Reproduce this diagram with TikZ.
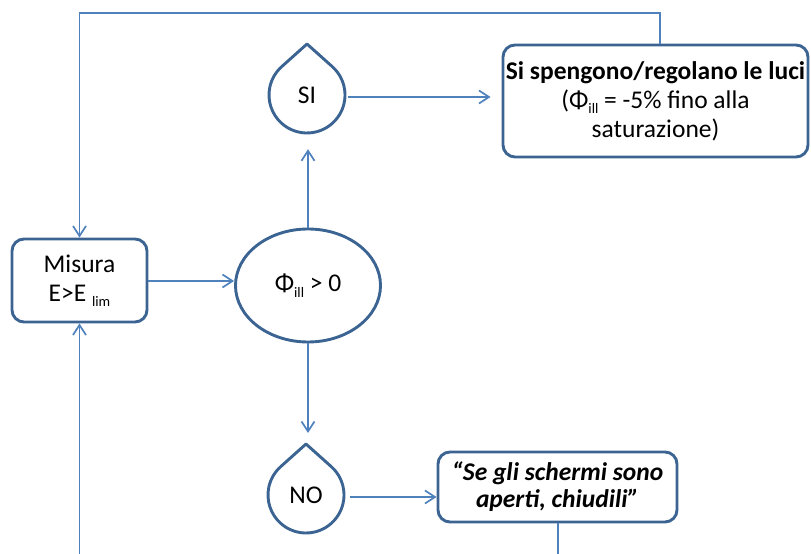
\documentclass[tikz,border=0pt]{standalone}
\usepackage{fontspec}
\setmainfont{Carlito}
\usetikzlibrary{arrows.meta,shapes.geometric,calc}

\definecolor{linkblue}{HTML}{4F81BD}
\definecolor{edgeblue}{HTML}{3B6492}

% small lowered index text (Phi_ill, E_lim)
\newcommand{\lowidx}[1]{\raisebox{-0.45ex}{\fontsize{14.5}{14.5}\selectfont #1}}

\begin{document}
\begin{tikzpicture}[x=1pt,y=1pt,
  conn/.style={draw=linkblue, line width=1.7pt, line join=miter,
    -{Straight Barb[length=10pt,width=13pt,line width=1.7pt]}},
  box/.style={draw=edgeblue, line width=2.9pt, rounded corners=12pt,
    align=center, inner sep=0pt, text=black},
  txt/.style={font=\fontsize{25.5}{29}\selectfont},
  dropcore/.style={circle, minimum size=76pt, inner sep=0pt, text=black},
  dropline/.style={draw=edgeblue, line width=2.9pt, line join=round}
]
\useasboundingbox (0,0) rectangle (811,554);
\clip (0,0) rectangle (811,554);

% nodes
\node[box, txt, minimum width=135pt, minimum height=83pt] (misura) at (79.5,273.5)
  {Misura\\E>E \lowidx{lim}};
\node[draw=edgeblue, line width=2.9pt, ellipse, minimum width=145pt, minimum height=113pt,
  inner sep=0pt, txt, text=black] (test) at (308,268.5) {Φ\lowidx{ill} > 0};
\node[dropcore, txt] (si) at (307,459) {SI};
\node[dropcore, txt] (no) at (306,59) {NO};
\node[box, txt, minimum width=305pt, minimum height=112pt] (luci) at (655.5,453)
  {\textbf{Si spengono/regolano le luci}\\(Φ\lowidx{ill} = -5\% fino alla\\saturazione)};
\node[box, txt, minimum width=239pt, minimum height=70pt, font=\fontsize{25.5}{27}\selectfont\bfseries\itshape]
  (schermi) at (557.5,67) {“Se gli schermi sono\\aperti, chiudili”};

% drop outlines around SI / NO
\foreach \d in {si,no}{
  \draw[dropline] ($(\d.center)+(0,51)$) -- ($(\d.center)+(48.2:38)$)
    arc[start angle=48.2, end angle=-228.2, radius=38] -- cycle;
}
\coordinate (notip) at ($(no.center)+(0,51)$);

% turning points of the feedback loops
\coordinate (topturn) at (660,541);
\coordinate (botturn) at (558,-20);

% connectors
\draw[conn] (misura.east |- 0,273) -- (test.west |- 0,273);
\draw[conn, shorten >=16pt] (test.north) -- (test.north |- si.south);
\draw[conn, shorten <=3pt, shorten >=11pt] ($(si.east)+(0,-2)$) -- ($(si.east -| luci.west)+(0,-2)$);
\draw[conn, shorten >=11pt] (test.south) -- (test.south |- notip);
\draw[conn, shorten <=6pt] ($(no.east)+(0,-2)$) -- ($(no.east -| schermi.west)+(0,-2)$);
\draw[conn] (luci.north -| topturn) -- (topturn) -| (misura.north);
\draw[conn] (schermi.south -| botturn) -- (botturn) -| (misura.south);
\end{tikzpicture}
\end{document}
